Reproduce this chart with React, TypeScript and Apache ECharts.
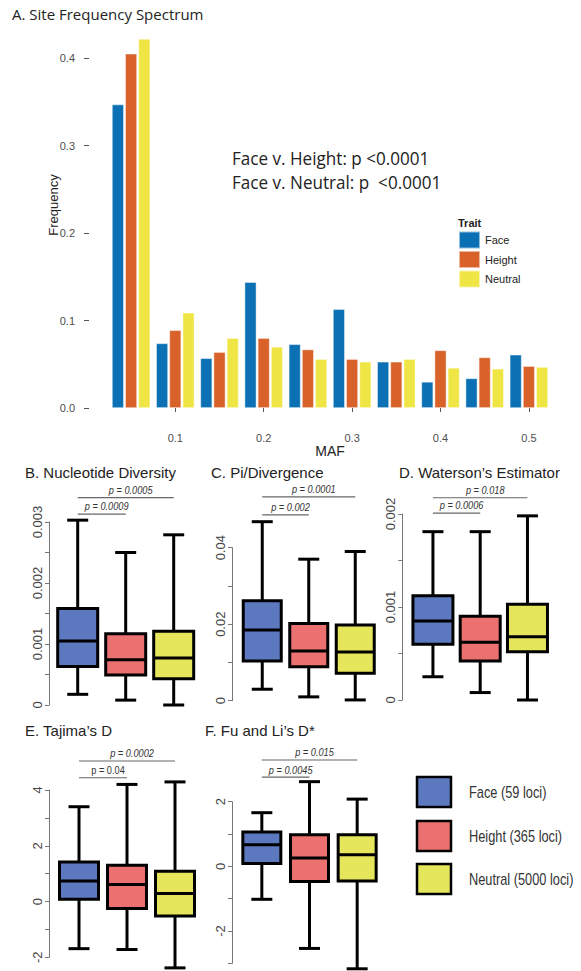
import React, { useEffect, useRef } from 'react';
import * as echarts from 'echarts';

// ---------- Panel A: site frequency spectrum ----------
const mafBins = ['0.05', '0.1', '0.15', '0.2', '0.25', '0.3', '0.35', '0.4', '0.45', '0.5'];
const sfsFace = [0.347, 0.074, 0.057, 0.144, 0.073, 0.113, 0.053, 0.030, 0.034, 0.061];
const sfsHeight = [0.405, 0.089, 0.064, 0.080, 0.067, 0.056, 0.053, 0.066, 0.058, 0.048];
const sfsNeutral = [0.422, 0.109, 0.080, 0.070, 0.056, 0.053, 0.056, 0.046, 0.045, 0.047];
const sfsYTicks = [0, 0.1, 0.2, 0.3, 0.4];
const traits = ['Face', 'Height', 'Neutral'];
const sfsTests = ['Face v. Height: p <0.0001', 'Face v. Neutral: p  <0.0001'];

// ---------- Panels B-F: [min, Q1, median, Q3, max] for Face, Height, Neutral ----------
const nucDiv = [
  [0.000175, 0.00063, 0.00105, 0.00158, 0.00303],
  [0.00008, 0.00049, 0.00074, 0.00117, 0.0025],
  [0.0, 0.00043, 0.00077, 0.00121, 0.00279],
];
const piDiv = [
  [0.003, 0.0104, 0.0185, 0.0261, 0.0468],
  [0.001, 0.0089, 0.013, 0.0202, 0.037],
  [0.0002, 0.0072, 0.0127, 0.0198, 0.039],
];
const watterson = [
  [0.00025, 0.0006, 0.00085, 0.00112, 0.00181],
  [0.00008, 0.00042, 0.00062, 0.0009, 0.00181],
  [0.0, 0.00052, 0.00068, 0.00103, 0.00198],
];
const tajima = [
  [-1.69, 0.08, 0.74, 1.42, 3.4],
  [-1.72, -0.25, 0.61, 1.3, 4.2],
  [-2.38, -0.52, 0.29, 1.09, 4.29],
];
const fuLi = [
  [-1.02, 0.09, 0.67, 1.06, 1.66],
  [-2.54, -0.47, 0.26, 0.98, 2.62],
  [-3.17, -0.45, 0.36, 0.98, 2.08],
];

// p-value comparisons: Face vs [Neutral, Height]
const pTargets = [2, 1];
const nucDivP = ['p = 0.0005', 'p = 0.0009'];
const nucDivPLevel = [0.0034, 0.00313];
const piDivP = ['p = 0.0001', 'p = 0.002'];
const piDivPLevel = [0.0533, 0.0486];
const wattersonP = ['p = 0.018', 'p = 0.0006'];
const wattersonPLevel = [0.002175, 0.00201];
const tajimaP = ['p = 0.0002', 'p = 0.04'];
const tajimaPLevel = [5.04, 4.44];
const fuLiP = ['p = 0.015', 'p = 0.0045'];
const fuLiPLevel = [3.29, 2.76];

const boxLegendLabels = ['Face (59 loci)', 'Height (365 loci)', 'Neutral (5000 loci)'];

// ---------- styles ----------
const sfsColors = ['#0b71b4', '#d8622a', '#efe646'];
const boxColors = ['#5c78be', '#eb7171', '#e6e65c'];
const ARIAL = "'Liberation Sans', Arial, sans-serif";
const MYRIAD = "'Open Sans', 'Noto Sans', sans-serif";

interface Panel {
  title: string;
  titleX: number;
  titleY: number;
  stats: number[][];
  pLabels: string[];
  pLevels: number[];
  pItalic: boolean[];
  yMin: number;
  yMax: number;
  tick: number;
  labelStep: number;
  grid: { left: number; top: number; width: number; height: number };
  offset: number;
  boxW: number;
}

const panels: Panel[] = [
  {
    title: 'B. Nucleotide Diversity', titleX: 25, titleY: 472,
    stats: nucDiv, pLabels: nucDivP, pLevels: nucDivPLevel, pItalic: [true, true],
    yMin: 0, yMax: 0.003, tick: 0.0005, labelStep: 0.001,
    grid: { left: 53.7, top: 522, width: 144, height: 183 }, offset: 4.7, boxW: 40,
  },
  {
    title: 'C. Pi/Divergence', titleX: 211, titleY: 472,
    stats: piDiv, pLabels: piDivP, pLevels: piDivPLevel, pItalic: [true, true],
    yMin: 0, yMax: 0.04, tick: 0.01, labelStep: 0.02,
    grid: { left: 239, top: 547.7, width: 139.5, height: 153 }, offset: 7, boxW: 38,
  },
  {
    title: 'D. Waterson\u2019s Estimator', titleX: 399, titleY: 472,
    stats: watterson, pLabels: wattersonP, pLevels: wattersonPLevel, pItalic: [true, true],
    yMin: 0, yMax: 0.002, tick: 0.0005, labelStep: 0.001,
    grid: { left: 409.3, top: 514, width: 141.8, height: 186 }, offset: 7, boxW: 40,
  },
  {
    title: 'E. Tajima\u2019s D', titleX: 25, titleY: 730,
    stats: tajima, pLabels: tajimaP, pLevels: tajimaPLevel, pItalic: [true, false],
    yMin: -2, yMax: 4, tick: 1, labelStep: 2,
    grid: { left: 55, top: 790, width: 144, height: 167.3 }, offset: 6, boxW: 39,
  },
  {
    title: 'F. Fu and Li\u2019s D*', titleX: 205, titleY: 730,
    stats: fuLi, pLabels: fuLiP, pLevels: fuLiPLevel, pItalic: [true, true],
    yMin: -3, yMax: 2, tick: 1, labelStep: 2,
    grid: { left: 238, top: 801.7, width: 143, height: 161.6 }, offset: 6, boxW: 38,
  },
];

function buildOption(): any {
  const grids: any[] = [{ left: 109, top: 20.4, width: 442, height: 406 }];
  const xAxes: any[] = [
    {
      type: 'category',
      gridIndex: 0,
      data: mafBins,
      axisLine: { show: false },
      axisTick: {
        show: true,
        alignWithLabel: true,
        length: 4,
        interval: (i: number) => i % 2 === 1,
        lineStyle: { color: '#555', width: 1 },
      },
      axisLabel: {
        interval: (i: number) => i % 2 === 1,
        margin: 6,
        fontSize: 11,
        fontFamily: ARIAL,
        color: '#4d4d4d',
      },
      name: 'MAF',
      nameLocation: 'middle',
      nameGap: 15,
      nameTextStyle: { fontSize: 14, fontFamily: ARIAL, color: '#222' },
    },
  ];
  const yAxes: any[] = [
    {
      type: 'value',
      gridIndex: 0,
      min: -0.021,
      max: 0.443,
      offset: 20,
      axisLine: { show: false },
      splitLine: { show: false },
      axisTick: { show: true, length: 5, customValues: sfsYTicks, lineStyle: { color: '#555' } },
      axisLabel: {
        customValues: sfsYTicks,
        formatter: (v: number) => v.toFixed(1),
        margin: 14,
        fontSize: 11,
        fontFamily: ARIAL,
        color: '#4d4d4d',
      },
    },
  ];
  const series: any[] = [sfsFace, sfsHeight, sfsNeutral].map((d, i) => ({
    type: 'bar',
    name: traits[i],
    xAxisIndex: 0,
    yAxisIndex: 0,
    data: d,
    barWidth: 12,
    barGap: '10%',
    itemStyle: { color: sfsColors[i], borderColor: 'rgba(255,255,255,0.55)', borderWidth: 0.8 },
  }));

  const graphics: any[] = [];
  const text = (t: string, x: number, y: number, font: string, extra: any = {}) => ({
    type: 'text',
    x,
    y,
    rotation: extra.rotation || 0,
    scaleX: extra.scaleX || 1,
    silent: true,
    style: {
      text: t,
      x: 0,
      y: 0,
      font,
      fill: extra.fill || '#222',
      align: extra.align || 'left',
      textAlign: extra.align || 'left',
      verticalAlign: 'middle',
      textVerticalAlign: 'middle',
    },
  });

  graphics.push(text('A. Site Frequency Spectrum', 12, 14, `15px ${MYRIAD}`));
  graphics.push(text('Frequency', 53, 205, `13px ${ARIAL}`, { rotation: Math.PI / 2, align: 'center' }));
  graphics.push(text(sfsTests[0], 232, 158, `18px ${MYRIAD}`, { scaleX: 0.95 }));
  graphics.push(text(sfsTests[1], 232, 182, `18px ${MYRIAD}`, { scaleX: 0.95 }));
  graphics.push(text('Trait', 458, 223, `bold 11px ${ARIAL}`));

  panels.forEach((p, k) => {
    const gi = k + 1;
    grids.push({ ...p.grid });
    xAxes.push({ type: 'category', gridIndex: gi, data: traits, show: false });
    yAxes.push({
      type: 'value',
      gridIndex: gi,
      min: p.yMin,
      max: p.yMax,
      interval: p.tick,
      offset: p.offset,
      splitLine: { show: false },
      axisLine: { show: true, lineStyle: { color: '#777', width: 1 } },
      axisTick: { show: true, length: 4, lineStyle: { color: '#777', width: 1 } },
      axisLabel: {
        rotate: 90,
        margin: 5,
        fontSize: 13,
        fontFamily: ARIAL,
        color: '#444',
        showMinLabel: true,
        showMaxLabel: true,
        formatter: (v: number) => {
          const r = v / p.labelStep;
          const n = Math.round(r);
          if (Math.abs(r - n) > 1e-6) return '';
          return String(+(n * p.labelStep).toFixed(6));
        },
      },
    });
    const boxW = p.boxW;
    const capW = 21;
    series.push({
      type: 'custom',
      name: 'box' + k,
      xAxisIndex: gi,
      yAxisIndex: gi,
      data: p.stats.map((s, i) => [i, ...s]),
      encode: { x: 0, y: [1, 2, 3, 4, 5] },
      renderItem: (params: any, api: any) => {
        const i = api.value(0);
        const ys = [1, 2, 3, 4, 5].map((d) => api.coord([i, api.value(d)])[1]);
        const cx = api.coord([i, api.value(1)])[0];
        const [yMin, yQ1, yMed, yQ3, yMax] = ys;
        const ln = { stroke: '#000', lineWidth: 3 };
        return {
          type: 'group',
          children: [
            { type: 'line', shape: { x1: cx, y1: yMax, x2: cx, y2: yQ3 }, style: ln },
            { type: 'line', shape: { x1: cx, y1: yQ1, x2: cx, y2: yMin }, style: ln },
            { type: 'line', shape: { x1: cx - capW / 2, y1: yMax, x2: cx + capW / 2, y2: yMax }, style: ln },
            { type: 'line', shape: { x1: cx - capW / 2, y1: yMin, x2: cx + capW / 2, y2: yMin }, style: ln },
            {
              type: 'rect',
              shape: { x: cx - boxW / 2, y: yQ3, width: boxW, height: yQ1 - yQ3 },
              style: { fill: boxColors[i], stroke: '#000', lineWidth: 3 },
            },
            { type: 'line', shape: { x1: cx - boxW / 2, y1: yMed, x2: cx + boxW / 2, y2: yMed }, style: ln },
          ],
        };
      },
    });
    series.push({
      type: 'custom',
      name: 'pvals' + k,
      xAxisIndex: gi,
      yAxisIndex: gi,
      data: p.pLevels.map((l) => [0, l]),
      encode: { x: 0, y: 1 },
      renderItem: (params: any, api: any) => {
        const j = params.dataIndex;
        const a = api.coord([api.value(0), api.value(1)]);
        const b = api.coord([pTargets[j], api.value(1)]);
        return {
          type: 'group',
          children: [
            { type: 'line', shape: { x1: a[0], y1: a[1], x2: b[0], y2: b[1] }, style: { stroke: '#666', lineWidth: 1.2 } },
            {
              type: 'text',
              x: (a[0] + b[0]) / 2 + 5,
              y: a[1] - 7.5,
              scaleX: 0.8,
              style: {
                text: p.pLabels[j],
                x: 0,
                y: 0,
                font: `${p.pItalic[j] ? 'italic ' : ''}11.5px ${ARIAL}`,
                fill: '#333',
                align: 'center',
                textAlign: 'center',
                verticalAlign: 'middle',
                textVerticalAlign: 'middle',
              },
            },
          ],
        };
      },
    });
    graphics.push(text(p.title, p.titleX, p.titleY, `15px ${ARIAL}`));
  });

  // bottom legend
  const legY = [792, 836, 879];
  boxLegendLabels.forEach((lab, i) => {
    graphics.push({
      type: 'rect',
      silent: true,
      shape: { x: 417, y: legY[i] - 15, width: 34, height: 30 },
      style: { fill: boxColors[i], stroke: '#000', lineWidth: 2.5 },
    });
    graphics.push(text(lab, 469, legY[i], `16px ${ARIAL}`, { fill: '#333', scaleX: 0.8 }));
  });

  return {
    animation: false,
    backgroundColor: '#ffffff',
    grid: grids,
    xAxis: xAxes,
    yAxis: yAxes,
    legend: {
      data: traits,
      orient: 'vertical',
      left: 458,
      top: 230.5,
      padding: 0,
      itemWidth: 21,
      itemHeight: 17,
      itemGap: 0.5,
      icon: 'rect',
      selectedMode: false,
      textStyle: { fontSize: 11, fontFamily: ARIAL, color: '#222' },
    },
    series,
    graphic: { elements: graphics },
  };
}

export default function App() {
  const ref = useRef<HTMLDivElement>(null);
  useEffect(() => {
    if (!ref.current) return;
    const chart = echarts.init(ref.current, null, { renderer: 'svg', width: 581, height: 971 });
    chart.setOption(buildOption());
    return () => chart.dispose();
  }, []);
  return (
    <div
      ref={ref}
      style={{ position: 'absolute', left: 0, top: 0, width: 581, height: 971, background: '#fff' }}
    />
  );
}
